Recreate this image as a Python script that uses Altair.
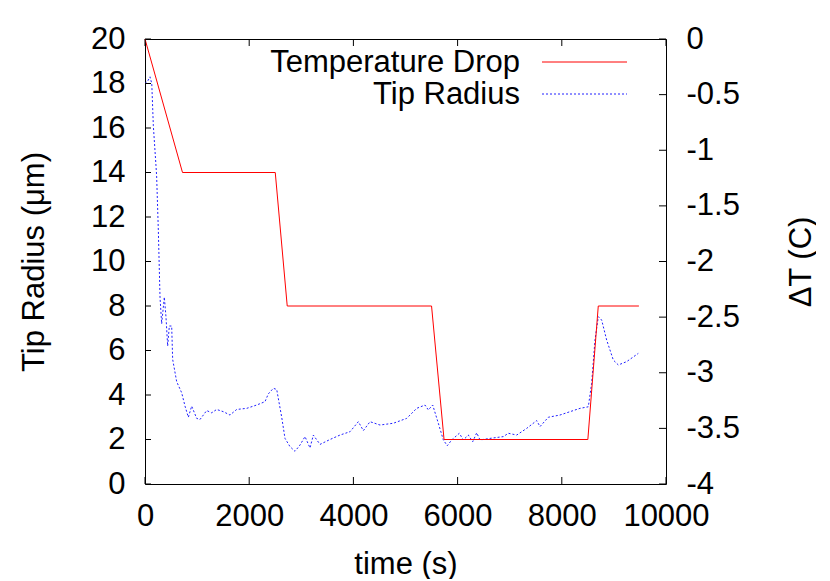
import altair as alt
import pandas as pd

# ---- data ----
time_r = [0, 50, 96, 130, 160, 211, 224, 256, 288, 320, 371, 403, 435, 467, 512, 531, 608,
          704, 768, 832, 896, 992, 1056, 1184, 1280, 1376, 1504, 1631, 1760, 1952, 2144,
          2303, 2367, 2463, 2528, 2624, 2687, 2783, 2879, 2975, 3071, 3167, 3231, 3359,
          3551, 3743, 3935, 4095, 4191, 4319, 4511, 4766, 5023, 5215, 5374, 5438, 5522,
          5630, 5726, 5802, 5887, 6033, 6110, 6206, 6290, 6367, 6430, 6622, 6878, 6974,
          7134, 7326, 7518, 7582, 7741, 7965, 8157, 8349, 8509, 8573, 8637, 8701, 8765,
          8861, 8989, 9085, 9245, 9468]
radius = [18.0, 18.1, 18.3, 18.0, 16.1, 14.3, 13.8, 11.4, 8.4, 7.2, 8.4, 7.5, 6.2, 7.1, 7.1,
          5.6, 4.6, 4.1, 3.5, 3.0, 3.5, 2.95, 2.9, 3.3, 3.2, 3.35, 3.25, 3.1, 3.35, 3.4,
          3.55, 3.7, 4.05, 4.3, 4.25, 3.0, 2.05, 1.68, 1.47, 1.75, 2.13, 1.62, 2.2, 1.78,
          2.0, 2.2, 2.35, 2.8, 2.4, 2.8, 2.65, 2.73, 2.95, 3.4, 3.55, 3.33, 3.55, 2.73,
          1.98, 1.72, 1.98, 2.28, 1.98, 2.2, 1.9, 2.3, 1.98, 2.05, 2.13, 2.28, 2.2, 2.5,
          2.85, 2.58, 3.0, 3.1, 3.25, 3.4, 3.47, 4.53, 6.47, 7.52, 7.37, 6.47, 5.57, 5.35,
          5.5, 5.87]

time_T = [0, 720, 2500, 2730, 5500, 5740, 8500, 8700, 9480]
delta_T = [0, -1.2, -1.2, -2.4, -2.4, -3.6, -3.6, -2.4, -2.4]

x_ticks = [0, 2000, 4000, 6000, 8000, 10000]
y_ticks = [0, 2, 4, 6, 8, 10, 12, 14, 16, 18, 20]
dT_ticks = [0, -0.5, -1, -1.5, -2, -2.5, -3, -3.5, -4]
legend_labels = ["Temperature Drop", "Tip Radius"]

df_r = pd.DataFrame({"t": time_r, "r": radius})
df_T = pd.DataFrame({"t": time_T, "dT": delta_T})
df_xt = pd.DataFrame({"t": x_ticks})
df_yt = pd.DataFrame({"v": y_ticks})
df_dt = pd.DataFrame({"v": dT_ticks})

# ---- styling ----
W, H = 521, 445
FONT = "Liberation Sans"
FS = 31
TICK = 7
RED = "#ff0000"
BLUE = "#2020ff"

xscale = alt.Scale(domain=[0, 10000], nice=False, zero=False)
yL = alt.Scale(domain=[0, 20], nice=False)
yR = alt.Scale(domain=[-4, 0], nice=False)

common_axis = dict(domain=False, ticks=False, grid=False, labelFont=FONT, labelFontSize=FS,
                   labelColor="black", titleFont=FONT, titleFontSize=FS,
                   titleFontWeight="normal", titleColor="black", labelFlush=False)

x_axis = alt.Axis(values=x_ticks, format="d", labelPadding=17, title="time (s)",
                  titleX=W / 2, titleY=89, titleBaseline="alphabetic", titleAlign="center",
                  **common_axis)
yL_axis = alt.Axis(values=y_ticks, format="d", labelPadding=20, title="Tip Radius (μm)",
                   titleAngle=270, titleX=-102, titleY=H / 2, titleBaseline="alphabetic",
                   titleAlign="center", **common_axis)
yR_axis = alt.Axis(orient="right", values=dT_ticks, labelExpr="toString(datum.value)",
                   labelPadding=20, title="ΔT (C)", titleAngle=270,
                   titleX=144, titleY=H / 2, titleBaseline="alphabetic", titleAlign="center",
                   **common_axis)

radius_line = alt.Chart(df_r).mark_line(color=BLUE, strokeWidth=1, strokeDash=[2, 2]).encode(
    x=alt.X("t:Q", scale=xscale, axis=x_axis),
    y=alt.Y("r:Q", scale=yL, axis=yL_axis),
)
temp_line = alt.Chart(df_T).mark_line(color=RED, strokeWidth=1).encode(
    x=alt.X("t:Q", scale=xscale, axis=x_axis),
    y=alt.Y("dT:Q", scale=yR, axis=yR_axis),
)
x_ticks_bottom = alt.Chart(df_xt).mark_rule(color="black", strokeWidth=1).encode(
    x=alt.X("t:Q", scale=xscale, axis=x_axis), y=alt.value(H), y2=alt.value(H - TICK))
x_ticks_top = alt.Chart(df_xt).mark_rule(color="black", strokeWidth=1).encode(
    x=alt.X("t:Q", scale=xscale, axis=x_axis), y=alt.value(0), y2=alt.value(TICK))
y_ticks_left = alt.Chart(df_yt).mark_rule(color="black", strokeWidth=1).encode(
    y=alt.Y("v:Q", scale=yL, axis=None), x=alt.value(0), x2=alt.value(TICK - 1))
y_ticks_right = alt.Chart(df_dt).mark_rule(color="black", strokeWidth=1).encode(
    y=alt.Y("v:Q", scale=yR, axis=None), x=alt.value(W), x2=alt.value(W - TICK))

# legend (gnuplot style: label then sample)
legend_layers = []
styles = [dict(color=RED), dict(color=BLUE, strokeDash=[2, 2])]
for i, lab in enumerate(legend_labels):
    df_l = pd.DataFrame({"label": [lab]})
    ty = 33 + 32 * i
    ly = 23 + 32 * i
    legend_layers.append(
        alt.Chart(df_l).mark_text(align="right", baseline="alphabetic", font=FONT,
                                  fontSize=FS, color="black").encode(
            text="label:N", x=alt.value(375), y=alt.value(ty)))
    legend_layers.append(
        alt.Chart(df_l).mark_rule(strokeWidth=1, **styles[i]).encode(
            x=alt.value(397), x2=alt.value(482), y=alt.value(ly)))

chart = alt.layer(
    radius_line, temp_line, x_ticks_bottom, x_ticks_top, y_ticks_left, y_ticks_right,
    *legend_layers
).resolve_scale(y="independent").properties(
    width=W, height=H,
    autosize=alt.AutoSizeParams(type="none"),
    padding={"left": 137, "top": 31, "right": 150, "bottom": 95},
    background="white",
).configure_view(stroke="black", strokeWidth=1)

chart.save("out.html", embed_options={"renderer": "svg", "actions": False})
